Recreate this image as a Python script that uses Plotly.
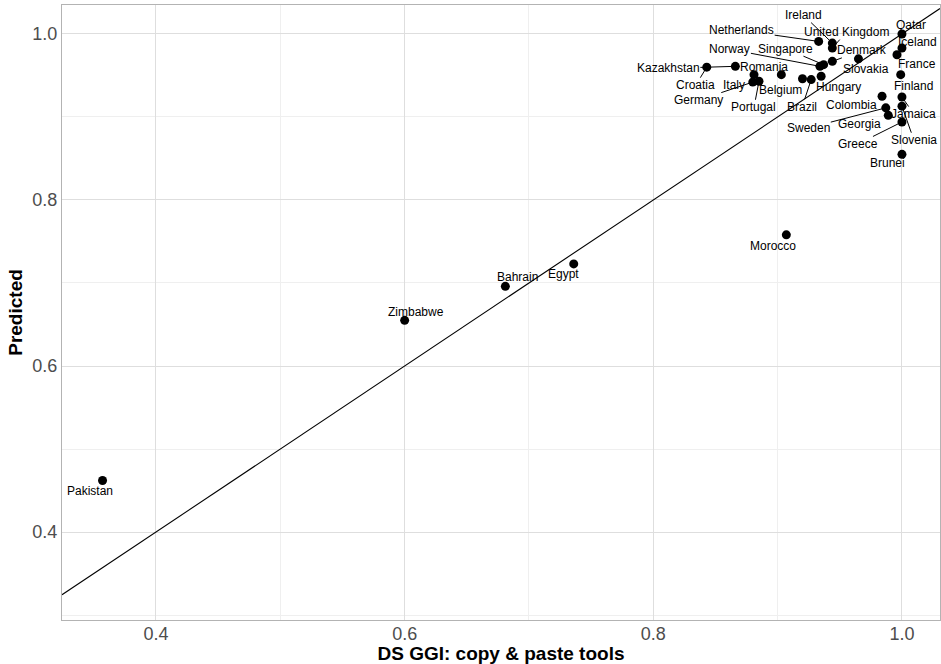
import plotly.graph_objects as go

# ---- data ----
countries = ["Qatar", "Iceland", "France", "Finland", "Jamaica", "Slovenia", "Greece", "Brunei",
             "Colombia", "Sweden", "Georgia", "Hungary", "Brazil", "Belgium", "Romania",
             "Kazakhstan", "Croatia", "Italy", "Germany", "Portugal", "Netherlands", "Ireland",
             "United Kingdom", "Norway", "Singapore", "Denmark", "Slovakia",
             "Morocco", "Egypt", "Bahrain", "Zimbabwe", "Pakistan"]
ds_ggi = [1.000, 1.000, 0.996, 0.999, 1.000, 1.000, 1.000, 1.000,
          0.984, 0.987, 0.989, 0.935, 0.927, 0.920, 0.903,
          0.866, 0.843, 0.881, 0.880, 0.885, 0.933, 0.944,
          0.944, 0.934, 0.937, 0.944, 0.965,
          0.907, 0.736, 0.681, 0.600, 0.357]
predicted = [1.000, 0.983, 0.975, 0.951, 0.924, 0.913, 0.894, 0.855,
             0.925, 0.911, 0.902, 0.949, 0.945, 0.946, 0.951,
             0.961, 0.960, 0.951, 0.942, 0.943, 0.991, 0.989,
             0.983, 0.961, 0.963, 0.967, 0.970,
             0.758, 0.723, 0.696, 0.655, 0.462]

x_ticks = [0.4, 0.6, 0.8, 1.0]
y_ticks = [0.4, 0.6, 0.8, 1.0]
x_range = [0.3244, 1.0306]
y_range = [0.294, 1.0349]

# ---- label placement (pixel offsets of label centre from point, segment shown?) ----
label_style = {
    "Qatar": (9, -9, False), "Iceland": (16, -6, False), "France": (20, 9, False),
    "Finland": (13, 11, False), "Jamaica": (12, 17, True), "Slovenia": (12, 34, True),
    "Greece": (-44, 22, True), "Brunei": (-14, 9, False), "Colombia": (-31, 9, False),
    "Sweden": (-77, 20, True), "Georgia": (-29, 9, False), "Hungary": (17, 11, False),
    "Brazil": (-9, 27, True), "Belgium": (-22, 11, False), "Romania": (-17, -8, False),
    "Kazakhstan": (-67, 2, True), "Croatia": (-11, 18, True), "Italy": (-20, 10, False),
    "Germany": (-54, 18, True), "Portugal": (-5, 26, True), "Netherlands": (-77, -11, True),
    "Ireland": (-29, -28, True), "United Kingdom": (14, -16, True), "Norway": (-90, -17, True),
    "Singapore": (-38, -16, True), "Denmark": (30, -11, True), "Slovakia": (8, 10, False),
    "Morocco": (-13, 11, False), "Egypt": (-10, 10, False), "Bahrain": (12, -9, False),
    "Zimbabwe": (11, -8, False), "Pakistan": (-13, 10, False),
}

FONT = "Liberation Sans, Arial, sans-serif"

fig = go.Figure()
fig.add_trace(go.Scatter(x=x_range, y=x_range, mode="lines",
                         line=dict(color="black", width=1.1), hoverinfo="skip", showlegend=False))
fig.add_trace(go.Scatter(x=ds_ggi, y=predicted, mode="markers", text=countries,
                         marker=dict(color="black", size=9), showlegend=False))

for c, xv, yv in zip(countries, ds_ggi, predicted):
    ax, ay, seg = label_style[c]
    fig.add_annotation(x=xv, y=yv, text=c, showarrow=True, ax=ax, ay=ay,
                       axref="pixel", ayref="pixel", arrowhead=0, arrowwidth=1,
                       arrowcolor="black" if seg else "rgba(0,0,0,0)", standoff=0,
                       font=dict(family=FONT, size=12, color="black"), borderpad=0)

axis_common = dict(showline=True, linecolor="#b3b3b3", linewidth=1, mirror=True,
                   gridcolor="#dedede", gridwidth=1, zeroline=False, ticks="",
                   automargin=False,
                   tickfont=dict(family=FONT, size=18, color="#4d4d4d"),
                   minor=dict(showgrid=True, gridcolor="#efefef", gridwidth=1, dtick=0.1))

fig.update_xaxes(range=x_range, tickvals=x_ticks, ticktext=[f"{v:.1f}" for v in x_ticks],
                 ticklabelstandoff=-3,
                 title=dict(text="<b>DS GGI: copy & paste tools</b>", standoff=1,
                            font=dict(family=FONT, size=19, color="black")), **axis_common)
fig.update_yaxes(range=y_range, tickvals=y_ticks, ticktext=[f"{v:.1f}" for v in y_ticks],
                 title=dict(text="<b>Predicted</b>", standoff=4,
                            font=dict(family=FONT, size=19, color="black")), **axis_common)

fig.update_layout(width=941, height=664, margin=dict(l=62, r=1, t=5, b=44),
                  plot_bgcolor="white", paper_bgcolor="white",
                  font=dict(family=FONT))
fig.write_html("out.html", config={"displayModeBar": False},
               post_script="document.body.style.margin='0';")
